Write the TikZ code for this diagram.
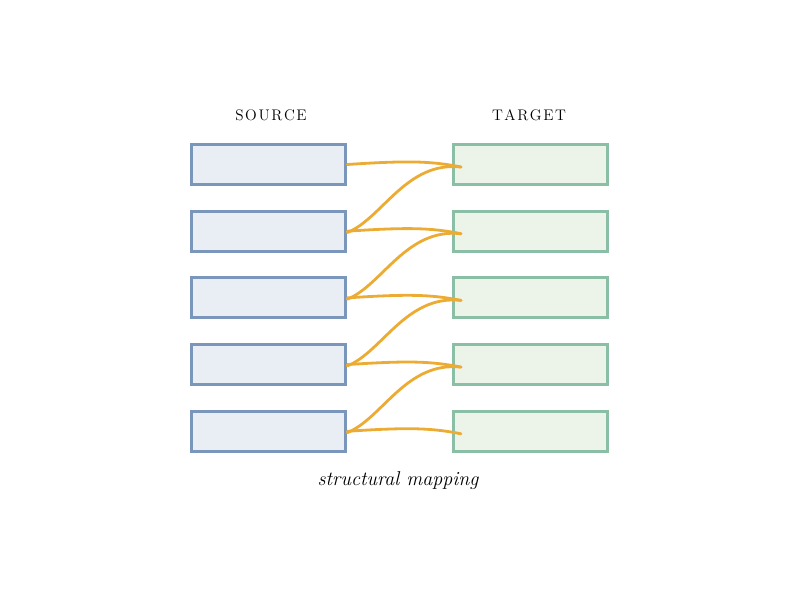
\documentclass[tikz,border=0pt]{standalone}
\newcommand{\spc}{\kern1.2pt}
\begin{document}
\begin{tikzpicture}[x=0.75pt,y=-0.75pt,
  sbox/.style={draw={rgb,255:red,122;green,150;blue,186}, fill={rgb,255:red,233;green,237;blue,244}, line width=2.2pt, rectangle, minimum width=116pt, minimum height=30pt, inner sep=0},
  tbox/.style={draw={rgb,255:red,138;green,190;blue,165}, fill={rgb,255:red,236;green,243;blue,233}, line width=2.2pt, rectangle, minimum width=116pt, minimum height=30pt, inner sep=0},
  link/.style={draw={rgb,255:red,236;green,172;blue,52}, line width=2.1pt, line cap=round},
  hdr/.style={font=\fontsize{11.5}{12}\selectfont, inner sep=0}]
\useasboundingbox (0,0) rectangle (800,600);
\node[hdr] (sh) at (271,115) {S\spc O\spc U\spc R\spc C\spc E};
\node[hdr] (th) at (529,115) {T\spc A\spc R\spc G\spc E\spc T};
\foreach \i in {0,...,4}{
  \node[sbox] (s\i) at (268.5,164.5+66.7*\i) {};
  \node[tbox] (t\i) at (530.5,164.5+66.7*\i) {};
  \coordinate (e\i) at (461,167+66.7*\i);
}
\foreach \i in {0,...,4}{
  \path[link] (s\i.east) .. controls +(60,-4) and +(-30,-6) .. (e\i);
}
\foreach \i [evaluate=\i as \j using int(\i+1)] in {0,...,3}{
  \path[link] ([yshift=-1pt]s\j.east) .. controls +(35,-14) and +(-55,-6) .. (e\i);
}
\node[font=\fontsize{15}{16}\selectfont\itshape] (cap) at (398,481) {structural mapping};
\end{tikzpicture}
\end{document}
